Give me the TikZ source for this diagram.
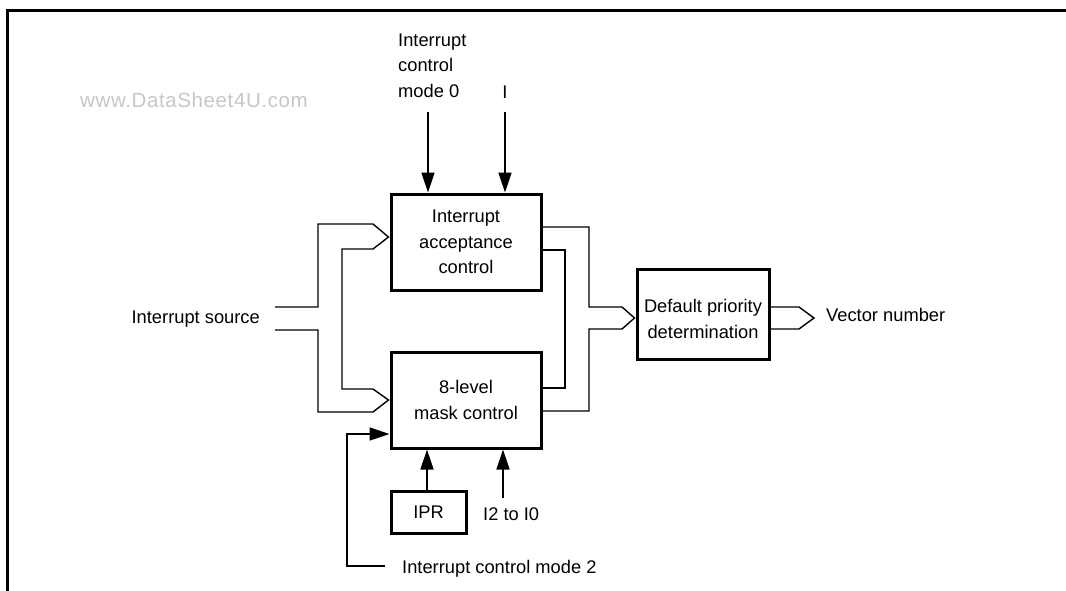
\documentclass[tikz,border=0pt]{standalone}
\usepackage{fontspec}
\setmainfont{Liberation Sans}
\newfontfamily\wmfont[LetterSpace=3]{Liberation Sans}
\usetikzlibrary{arrows.meta,calc}
\tikzset{
  txt/.style={inner sep=0pt, font=\fontsize{18.3}{25.5}\selectfont},
  blk/.style={draw, line width=3pt, inner sep=0pt, align=center, font=\fontsize{18.3}{25.5}\selectfont},
  bus/.style={line width=1.4pt, line join=miter},
  arr/.style={line width=1.5pt, -{Triangle[length=20pt,width=13pt]}},
  frame/.style={line width=3pt},
}
\begin{document}
\begin{tikzpicture}[x=1pt,y=-1pt]
\useasboundingbox (0,0) rectangle (1066,590);
\fill[white] (0,0) rectangle (1066,590);
% frame (partial)
\draw[frame] (7,600) -- (7,10) -- (1080,10);
% watermark
\node[txt, anchor=base west, text=black!22, font=\wmfont\fontsize{20.5}{24}\selectfont] (wm) at (80,107) {www.DataSheet4U.com};
% blocks
\node[blk, minimum width=150pt, minimum height=96pt] (iac) at (466,242) {Interrupt\\acceptance\\control};
\node[blk, minimum width=150pt, minimum height=96pt] (mask) at (466,400) {8-level\\mask control};
\node[blk, minimum width=132pt, minimum height=90pt] (dpd) at (703,314) {};
\node[txt, align=center] (dpdt) at ($(dpd.center)+(0,5)$) {Default priority\\determination};
\node[blk, minimum width=75pt, minimum height=42pt] (ipr) at (428.5,512) {IPR};
% labels
\node[txt, align=left, anchor=north west] (icm0) at (398,33.5) {Interrupt\\control\\mode 0};
\node[txt, anchor=base] (ilab) at (505,98) {I};
\node[txt, anchor=base east] (src) at (260,323) {Interrupt source};
\node[txt, anchor=base west] (vec) at (826,321) {Vector number};
\node[txt, anchor=base west] (i20) at (483,520) {I2 to I0};
\node[txt, anchor=base west] (icm2) at (402,573) {Interrupt control mode 2};
% arrow start points
\coordinate (a0) at (428,112);
\coordinate (a1) at (505,112);
\coordinate (a2) at (503,498);
\coordinate (m2) at (385,566);
\coordinate (s1) at (275,307);
\coordinate (s2) at (275,330);
% top arrows
\draw[arr] (a0) -- (a0 |- iac.north);
\draw[arr] (a1) -- (a1 |- iac.north);
% bottom arrows
\draw[arr] (ipr.north -| 427,0) -- (427,0 |- mask.south);
\draw[arr] (a2) -- (a2 |- mask.south);
\draw[arr] (m2) -- (347,566) |- ($(mask.west)+(0,34)$);
% left bus (interrupt source)
\draw[bus] (s1) -- (318,307) -- (318,224) -- (373,224) -- ($(iac.west)+(-1,-5)$)
  -- (373,249) -- (342,249) -- (342,389) -- (373,389) -- ($(mask.west)+(-1,0)$)
  -- (373,412) -- (318,412) -- (318,330) -- (s2);
% right bus
\draw[bus] ($(iac.east)+(0,-15)$) -- (589,227) -- (589,307) -- (622,307)
  -- ($(dpd.west)+(-1,4)$) -- (622,329) -- (589,329) -- (589,411) -- ($(mask.east)+(0,11)$);
\draw[bus] ($(iac.east)+(0,8)$) -- (565,250) -- (565,388) -- ($(mask.east)+(0,-12)$);
% output bus
\draw[bus] ($(dpd.east)+(0,-7)$) -- (799,307) -- (814,318) -- (799,329) -- ($(dpd.east)+(0,15)$);
\end{tikzpicture}
\end{document}
